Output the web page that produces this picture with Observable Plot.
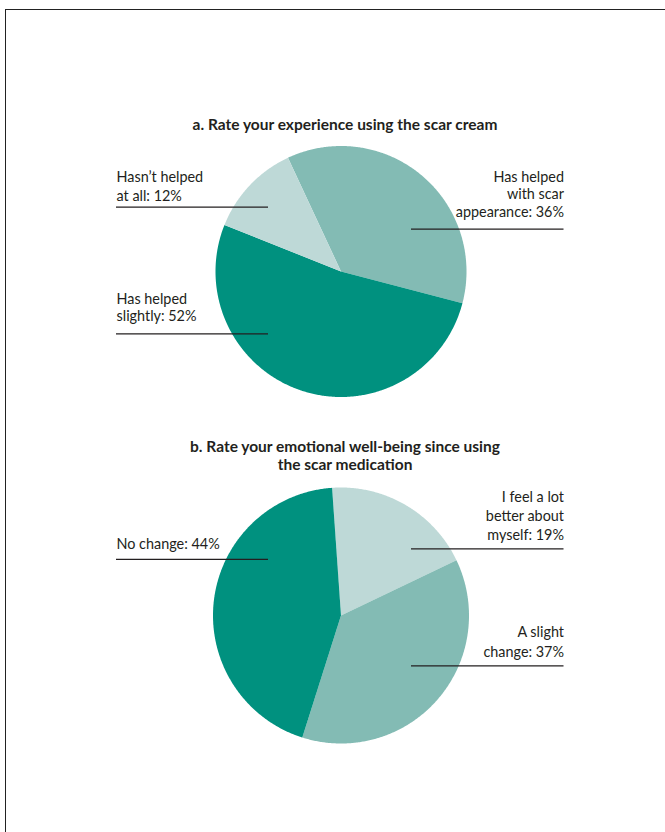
<!DOCTYPE html>
<html>
<head>
<meta charset="utf-8">
<script src="https://cdn.jsdelivr.net/npm/d3@7"></script>
<script src="https://cdn.jsdelivr.net/npm/@observablehq/plot@0.6"></script>
<style>
  html, body { margin: 0; padding: 0; background: #fff; }
  #frame { position: absolute; left: 5px; top: 9px; width: 700px; height: 900px;
           border-left: 1.6px solid #222; border-top: 1.6px solid #222; }
  #chart { position: absolute; left: 0; top: 0; }
</style>
</head>
<body>
<div id="frame"></div>
<div id="chart"></div>
<script>
// ---------- data ----------
const titleA = "a. Rate your experience using the scar cream";
const categoriesA = ["Has helped with scar appearance", "Has helped slightly", "Hasn’t helped at all"];
const valuesA = [36, 52, 12];
const labelLinesA = [["Has helped", "with scar", "appearance: 36%"], ["Has helped", "slightly: 52%"], ["Hasn’t helped", "at all: 12%"]];

const titleB = ["b. Rate your emotional well-being since using", "the scar medication"];
const categoriesB = ["I feel a lot better about myself", "A slight change", "No change"];
const valuesB = [19, 37, 44];
const labelLinesB = [["I feel a lot", "better about", "myself: 19%"], ["A slight", "change: 37%"], ["No change: 44%"]];

// ---------- layout / style ----------
const W = 665, H = 832;
const dark = "#00917f", mid = "#83bbb4", light = "#bed9d7";
const colorsA = [mid, dark, light];
const colorsB = [light, mid, dark];
const pieA = {cx: 340.5, cy: 271, r: 125.5, start: -25};
const pieB = {cx: 340.5, cy: 615, r: 128, start: -4};
// label placement per slice: side, text x, baseline of first line, line height, rule y, rule x1, x2
const placeA = [
  {side: "right", tx: 563.5, ty: 181.5, lh: 17.3, ly: 228.7, x1: 411, x2: 563.5},
  {side: "left",  tx: 116,   ty: 303.3, lh: 17.4, ly: 333.3, x1: 116, x2: 268},
  {side: "left",  tx: 116,   ty: 181.7, lh: 18.3, ly: 206.7, x1: 116, x2: 268}
];
const placeB = [
  {side: "right", tx: 563.5, ty: 501.7, lh: 18.8, ly: 548.3, x1: 411, x2: 563.5},
  {side: "right", tx: 563.5, ty: 636.7, lh: 19.3, ly: 665.3, x1: 411, x2: 563.5},
  {side: "left",  tx: 116,   ty: 548,   lh: 18,   ly: 558.8, x1: 116, x2: 268}
];

function slicePoints(cats, vals, pie, tag) {
  const total = d3.sum(vals);
  const pts = [];
  let a = pie.start;
  cats.forEach((c, i) => {
    const span = vals[i] / total * 360;
    const n = Math.max(2, Math.ceil(span * 2));
    pts.push({key: tag + i, cat: c, x: pie.cx, y: pie.cy});
    for (let k = 0; k <= n; k++) {
      const t = (a + span * k / n) * Math.PI / 180;
      pts.push({key: tag + i, cat: c, x: pie.cx + pie.r * Math.sin(t), y: pie.cy - pie.r * Math.cos(t)});
    }
    a += span;
  });
  return pts;
}

function labelRows(lines, place) {
  const rows = [];
  lines.forEach((ls, i) => {
    const p = place[i];
    ls.forEach((t, j) => rows.push({side: p.side, x: p.tx, y: p.ty + j * p.lh, text: t}));
  });
  return rows;
}
function ruleRows(place) { return place.map(p => ({y: p.ly, x1: p.x1, x2: p.x2})); }

const slices = [...slicePoints(categoriesA, valuesA, pieA, "a"), ...slicePoints(categoriesB, valuesB, pieB, "b")];
const texts = [...labelRows(labelLinesA, placeA), ...labelRows(labelLinesB, placeB)];
const rules = [...ruleRows(placeA), ...ruleRows(placeB)];
const titles = [
  {x: 344.5, y: 129.5, text: titleA},
  {x: 344.5, y: 451.7, text: titleB[0]},
  {x: 344.5, y: 469.5, text: titleB[1]}
];

const font = "Lato, 'Open Sans', sans-serif";
const chart = Plot.plot({
  width: W, height: H,
  margin: 0,
  x: {domain: [0, W], range: [0, W], axis: null},
  y: {domain: [0, H], range: [0, H], axis: null},
  color: {domain: [...categoriesA, ...categoriesB], range: [...colorsA, ...colorsB]},
  style: {fontFamily: font, background: "transparent", color: "#231f20"},
  marks: [
    Plot.line(slices, {x: "x", y: "y", z: "key", fill: "cat", stroke: "none"}),
    Plot.ruleY(rules, {y: "y", x1: "x1", x2: "x2", stroke: "#231f20", strokeWidth: 1.3}),
    Plot.text(texts.filter(d => d.side === "left"), {x: "x", y: "y", text: "text", textAnchor: "start", lineAnchor: "bottom", fontSize: 14.4, fill: "#231f20"}),
    Plot.text(texts.filter(d => d.side === "right"), {x: "x", y: "y", text: "text", textAnchor: "end", lineAnchor: "bottom", fontSize: 14.4, fill: "#231f20"}),
    Plot.text(titles, {x: "x", y: "y", text: "text", textAnchor: "middle", lineAnchor: "bottom", fontSize: 15.5, fontWeight: "bold", fill: "#231f20"})
  ]
});
document.getElementById("chart").appendChild(chart);
</script>
</body>
</html>
